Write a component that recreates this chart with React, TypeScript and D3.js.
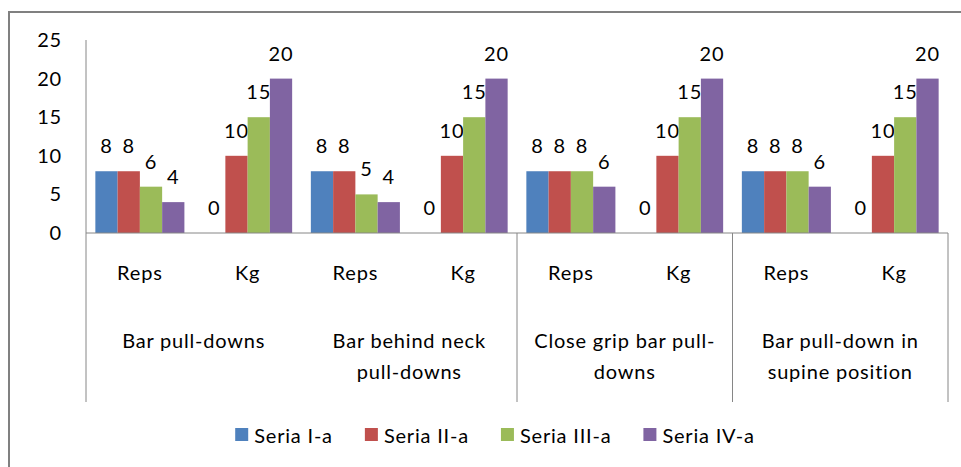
import React, { useEffect, useRef } from 'react';
import * as d3 from 'd3';

const groups = [
  ['Bar pull-downs'],
  ['Bar behind neck', 'pull-downs'],
  ['Close grip bar pull-', 'downs'],
  ['Bar pull-down in', 'supine position'],
];
const subCategories = ['Reps', 'Kg'];
const seriesNames = ['Seria I-a', 'Seria II-a', 'Seria III-a', 'Seria IV-a'];
const seriesColors = ['#4F81BD', '#C0504D', '#9BBB59', '#8064A2'];

// values per series, in order: group1 Reps, group1 Kg, group2 Reps, ...
const seria1 = [8, 0, 8, 0, 8, 0, 8, 0];
const seria2 = [8, 10, 8, 10, 8, 10, 8, 10];
const seria3 = [6, 15, 5, 15, 8, 15, 8, 15];
const seria4 = [4, 20, 4, 20, 6, 20, 6, 20];

const yTicks = [0, 5, 10, 15, 20, 25];
// group boundaries that get a vertical divider line (the one between group 1 and 2 is missing in the original)
const dividerAt = [0, 2, 3, 4];

const W = 961;
const H = 467;
const FONT = 'Lato, "Open Sans", sans-serif';
const FS = '20px';

const App = () => {
  const svgRef = useRef<SVGSVGElement>(null);

  useEffect(() => {
    const svg = d3.select(svgRef.current);
    svg.selectAll('*').remove();

    const values = [seria1, seria2, seria3, seria4];
    const cats = groups.flatMap((g, gi) => subCategories.map((s, si) => `${gi}-${s}`));

    const left = 86, right = 948, top = 40, bottom = 233;

    const x0 = d3.scaleBand().domain(cats).range([left, right]).paddingInner(0).paddingOuter(0);
    const x1 = d3.scaleBand().domain(seriesNames).range([0, x0.bandwidth()]).paddingInner(0).paddingOuter(0.42);
    const y = d3.scaleLinear().domain([0, 25]).range([bottom, top]);
    const groupX = d3.scaleLinear().domain([0, groups.length]).range([left, right]);

    const label = (sel: any) => sel
      .style('font-family', FONT)
      .style('font-size', FS)
      .style('letter-spacing', '0.8px')
      .style('fill', '#000');

    // outer frame
    svg.append('path')
      .attr('d', `M9,${H} L9,12 L${W},12`)
      .attr('fill', 'none')
      .attr('stroke', '#808080')
      .attr('stroke-width', 2);

    // bars
    seriesNames.forEach((name, si) => {
      const g = svg.append('g');
      g.selectAll('rect')
        .data(values[si])
        .join('rect')
        .attr('x', (d, i) => x0(cats[i])! + x1(name)!)
        .attr('y', d => y(d))
        .attr('width', x1.bandwidth())
        .attr('height', d => y(0) - y(d))
        .attr('fill', seriesColors[si]);

      g.selectAll('text')
        .data(values[si])
        .join('text')
        .attr('x', (d, i) => x0(cats[i])! + x1(name)! + x1.bandwidth() / 2)
        .attr('y', d => y(d) - 18)
        .attr('text-anchor', 'middle')
        .call(label)
        .text(d => d);
    });

    // axes
    svg.append('line')
      .attr('x1', left).attr('x2', left)
      .attr('y1', top).attr('y2', bottom)
      .attr('stroke', '#868686');
    svg.append('line')
      .attr('x1', left).attr('x2', right)
      .attr('y1', bottom).attr('y2', bottom)
      .attr('stroke', '#868686');

    svg.append('g').selectAll('line')
      .data(dividerAt)
      .join('line')
      .attr('x1', d => groupX(d)).attr('x2', d => groupX(d))
      .attr('y1', bottom).attr('y2', 402)
      .attr('stroke', '#868686');

    // y tick labels
    svg.append('g').selectAll('text')
      .data(yTicks)
      .join('text')
      .attr('x', 62)
      .attr('y', d => y(d))
      .attr('dy', '0.35em')
      .attr('text-anchor', 'end')
      .call(label)
      .text(d => d);

    // sub-category labels
    svg.append('g').selectAll('text')
      .data(cats)
      .join('text')
      .attr('x', d => x0(d)! + x0.bandwidth() / 2)
      .attr('y', 280)
      .attr('text-anchor', 'middle')
      .call(label)
      .text(d => d.split('-')[1]);

    // group labels
    groups.forEach((lines, gi) => {
      const cx = (groupX(gi) + groupX(gi + 1)) / 2;
      const t = svg.append('text')
        .attr('text-anchor', 'middle')
        .call(label);
      lines.forEach((line, li) => {
        t.append('tspan').attr('x', cx).attr('y', 348 + li * 31).text(line);
      });
    });

    // legend
    const legend = svg.append('g');
    let cursor = 0;
    seriesNames.forEach((name, i) => {
      const item = legend.append('g').attr('transform', `translate(${cursor},0)`);
      item.append('rect')
        .attr('x', 0).attr('y', 428)
        .attr('width', 13).attr('height', 13)
        .attr('fill', seriesColors[i]);
      const txt = item.append('text')
        .attr('x', 19).attr('y', 443)
        .call(label)
        .text(name);
      const w = (txt.node() as SVGTextElement).getComputedTextLength();
      cursor += 19 + w + 32;
    });
    const total = cursor - 32;
    legend.attr('transform', `translate(${495 - total / 2},0)`);
  }, []);

  return (
    <svg
      ref={svgRef}
      width={W}
      height={H}
      style={{ position: 'absolute', left: 0, top: 0, background: '#fff' }}
    />
  );
};

export default App;
